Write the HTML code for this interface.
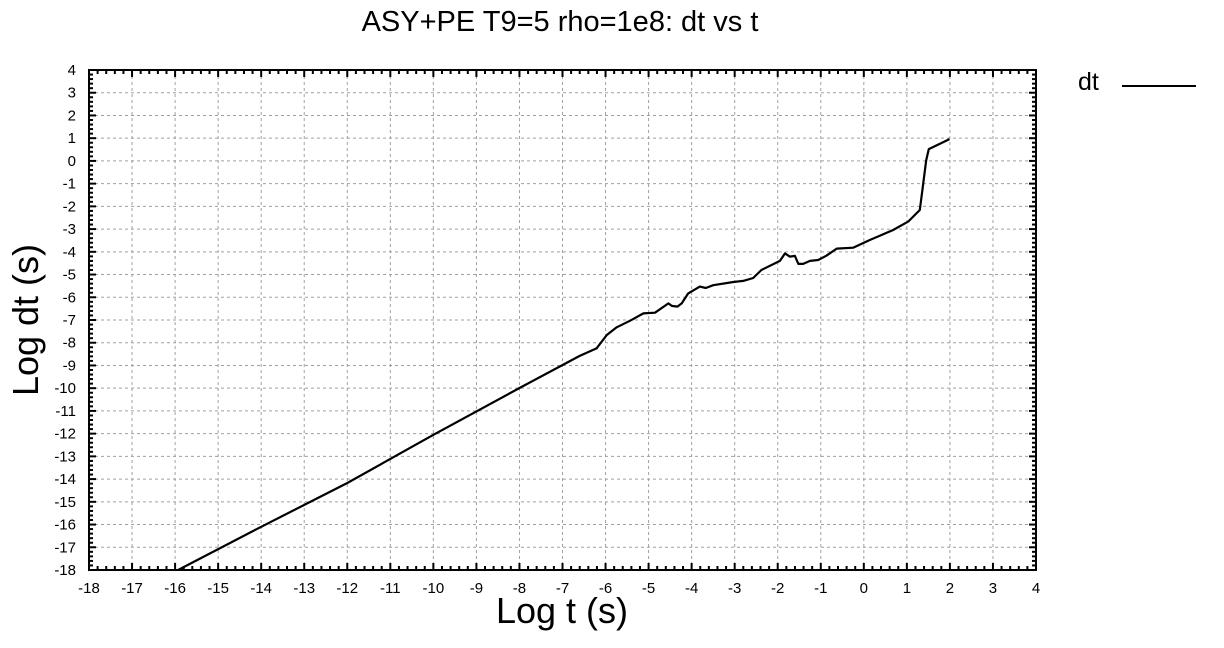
<!DOCTYPE html>
<html><head><meta charset="utf-8"><style>
body{margin:0;background:#fff;}
svg{display:block;font-family:"Liberation Sans",sans-serif;}
</style></head><body>
<svg id="chart" width="1224" height="648" xmlns="http://www.w3.org/2000/svg">
<rect width="1224" height="648" fill="#fff"/>
<text x="560" y="31" font-size="29" text-anchor="middle">ASY+PE T9=5 rho=1e8: dt vs t</text>
<text x="562" y="623" font-size="36" text-anchor="middle">Log t (s)</text>
<text transform="translate(38,320) rotate(-90)" font-size="36" text-anchor="middle">Log dt (s)</text>
<g id="grid"></g>
<g id="ticks"></g>
<defs><clipPath id="clip"><rect x="89" y="70" width="947" height="500"/></clipPath></defs>
<path id="series" clip-path="url(#clip)" fill="none" stroke="#000" stroke-width="2.2" stroke-linejoin="round"/>
<rect x="89" y="70" width="947" height="500" fill="none" stroke="#000" stroke-width="2"/>
<text x="1078" y="90" font-size="25">dt</text>
<line x1="1122" y1="86" x2="1196" y2="86" stroke="#000" stroke-width="2"/>
</svg>
<script>
const xTicks=[-18,-17,-16,-15,-14,-13,-12,-11,-10,-9,-8,-7,-6,-5,-4,-3,-2,-1,0,1,2,3,4];
const yTicks=[4,3,2,1,0,-1,-2,-3,-4,-5,-6,-7,-8,-9,-10,-11,-12,-13,-14,-15,-16,-17,-18];
const logT=[-15.93,-14,-12,-10,-8,-6.6,-6.21,-5.97,-5.74,-5.43,-5.12,-4.85,-4.54,-4.46,-4.33,-4.23,-4.08,-3.81,-3.67,-3.5,-3.03,-2.8,-2.57,-2.38,-1.95,-1.83,-1.72,-1.6,-1.52,-1.41,-1.25,-1.06,-0.87,-0.63,-0.25,0.14,0.41,0.68,1.03,1.3,1.36,1.45,1.51,1.99];
const logDt=[-18,-16.1,-14.17,-12.05,-9.99,-8.58,-8.25,-7.66,-7.32,-7.03,-6.71,-6.68,-6.27,-6.38,-6.41,-6.27,-5.83,-5.53,-5.59,-5.47,-5.33,-5.28,-5.15,-4.8,-4.4,-4.07,-4.21,-4.18,-4.53,-4.53,-4.4,-4.36,-4.17,-3.86,-3.82,-3.48,-3.26,-3.04,-2.67,-2.16,-1.28,0.03,0.52,0.96];
const X0=89,X1=1036,Y0=570,Y1=70,xmin=-18,xmax=4,ymin=-18,ymax=4;
const sx=v=>X0+(v-xmin)/(xmax-xmin)*(X1-X0);
const sy=v=>Y0-(v-ymin)/(ymax-ymin)*(Y0-Y1);
const NS="http://www.w3.org/2000/svg";
const grid=document.getElementById('grid'),ticks=document.getElementById('ticks');
function mk(tag,attrs,parent){const e=document.createElementNS(NS,tag);for(const k in attrs)e.setAttribute(k,attrs[k]);parent.appendChild(e);return e;}
xTicks.forEach(v=>{
  const x=sx(v);
  if(v>xmin&&v<xmax){const g=mk('line',{x1:x,y1:Y1,x2:x,y2:Y0,stroke:'#a0a0a0','stroke-width':1,'stroke-dasharray':'3,3'},grid);
  
  }
  const t=mk('line',{x1:x,y1:Y0,x2:x,y2:Y0-7,stroke:'#000','stroke-width':2},ticks);
  
  
  mk('line',{x1:x,y1:Y1,x2:x,y2:Y1+7,stroke:'#000','stroke-width':2},ticks);
  if(v<xmax)for(let i=1;i<5;i++){const xm=sx(v+i/5);mk('line',{x1:xm,y1:Y0,x2:xm,y2:Y0-4,stroke:'#000','stroke-width':2},ticks);mk('line',{x1:xm,y1:Y1,x2:xm,y2:Y1+4,stroke:'#000','stroke-width':2},ticks);}
  const l=mk('text',{x:x,y:593,'font-size':15,'text-anchor':'middle'},ticks);
  
  
  l.textContent=v;
});
yTicks.forEach(v=>{
  const y=sy(v);
  if(v>ymin&&v<ymax){const g=mk('line',{x1:X0,y1:y,x2:X1,y2:y,stroke:'#a0a0a0','stroke-width':1,'stroke-dasharray':'3,3'},grid);
  
  }
  const t=mk('line',{x1:X0,y1:y,x2:X0+7,y2:y,stroke:'#000','stroke-width':2},ticks);
  
  
  mk('line',{x1:X1,y1:y,x2:X1-7,y2:y,stroke:'#000','stroke-width':2},ticks);
  if(v>ymin)for(let i=1;i<5;i++){const ym=sy(v-i/5);mk('line',{x1:X0,y1:ym,x2:X0+4,y2:ym,stroke:'#000','stroke-width':2},ticks);mk('line',{x1:X1,y1:ym,x2:X1-4,y2:ym,stroke:'#000','stroke-width':2},ticks);}
  const l=mk('text',{x:76,y:y+5,'font-size':15,'text-anchor':'end'},ticks);
  
  
  l.textContent=v;
});
document.getElementById('series').setAttribute('d',logT.map((t,i)=>(i?'L':'M')+sx(t).toFixed(1)+','+sy(logDt[i]).toFixed(1)).join(' '));
</script>
</body></html>
